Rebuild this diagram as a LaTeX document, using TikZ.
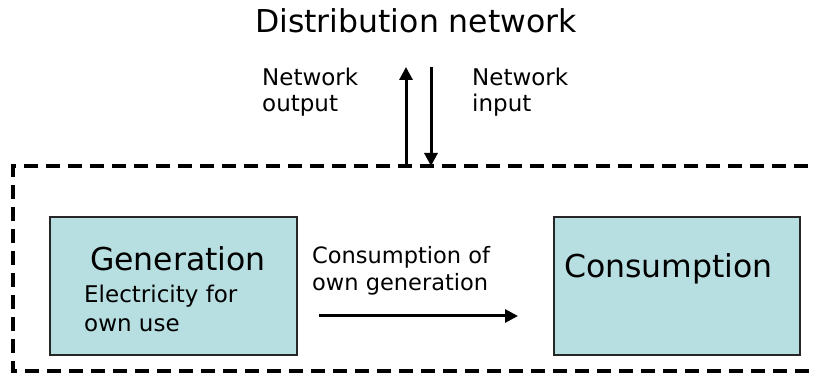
\documentclass[tikz,border=0pt]{standalone}
\usepackage{fontspec}
\setmainfont{DejaVu Sans}
\usetikzlibrary{arrows.meta}
\definecolor{boxfill}{RGB}{183,222,225}
\tikzset{
  x=1pt, y=-1pt,
  unitbox/.style={draw=black!85, line width=1.8pt, fill=boxfill},
  bigtxt/.style={font=\fontsize{31.5}{36}\selectfont, inner sep=0pt, anchor=base west},
  smalltxt/.style={font=\fontsize{23}{26}\selectfont, inner sep=0pt, anchor=base west, align=left},
  flow/.style={line width=3pt, -{Triangle[length=13pt,width=13pt]}},
  boundary/.style={line width=3.6pt, dash pattern=on 14pt off 8pt}
}
\begin{document}
\begin{tikzpicture}
\useasboundingbox (0,0) rectangle (814,379);
\begin{scope}
\clip (0,0) rectangle (814,379);
\draw[boundary] (830,166) -- (13,166) -- (13,371) -- (830,371);
\end{scope}
\node[unitbox, minimum width=247pt, minimum height=138pt, anchor=north west] (gen) at (49,216) {};
\node[unitbox, minimum width=246pt, minimum height=138pt, anchor=north west] (cons) at (553,216) {};
\node[bigtxt] (gentxt) at (90,271) {Generation};
\node[smalltxt, font=\fontsize{23}{29}\selectfont] (gensub) at (84,332) {Electricity for\\own use};
\node[bigtxt] (constxt) at (564,278) {Consumption};
\node[bigtxt] (dist) at (255,33) {Distribution network};
\node[smalltxt] (netout) at (262,112) {Network\\output};
\node[smalltxt] (netin) at (472,112) {Network\\input};
\node[smalltxt, font=\fontsize{22.5}{28}\selectfont] (own) at (312,291) {Consumption of\\own generation};
\coordinate (outA) at (406,166);
\coordinate (outB) at (406,67);
\coordinate (inA) at (431,67);
\coordinate (inB) at (431,166);
\coordinate (hA) at (319,316);
\coordinate (hB) at (518,316);
\draw[flow] (outA) -- (outB);
\draw[flow] (inA) -- (inB);
\draw[flow] (hA) -- (hB);
\end{tikzpicture}
\end{document}
